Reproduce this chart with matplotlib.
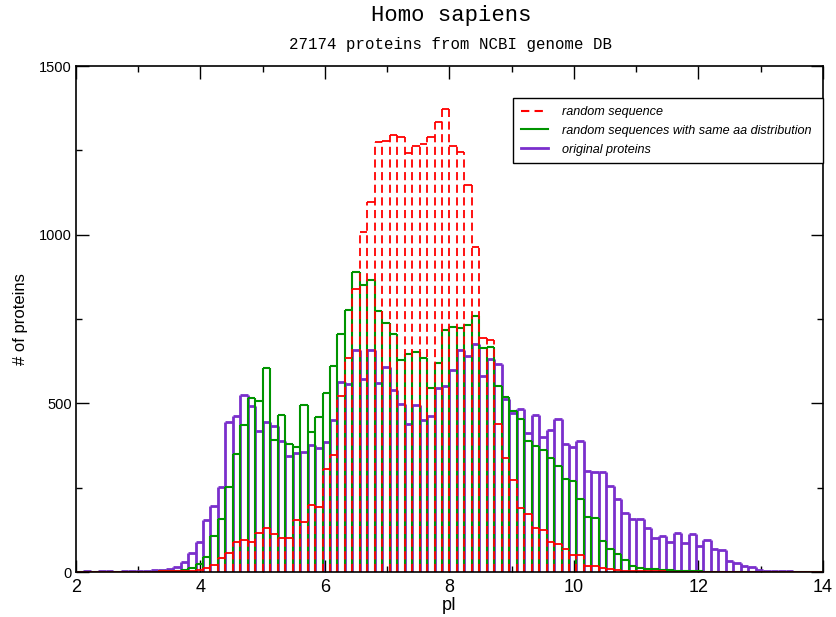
import matplotlib
matplotlib.use("Agg")
import matplotlib.pyplot as plt
from matplotlib.lines import Line2D
from matplotlib.ticker import MultipleLocator
import numpy as np

# histogram bins: 100 bins of width 0.12 from pI 2 to 14
bin_start = 2.0
bin_width = 0.12
n_bins = 100

original_proteins = [
    1, 2, 1, 2, 2, 1, 3, 2, 3, 4,
    5, 7, 9, 16, 30, 57, 88, 154, 197, 253,
    446, 462, 525, 493, 418, 446, 433, 389, 345, 354,
    357, 376, 367, 386, 451, 564, 557, 658, 571, 658,
    561, 607, 540, 497, 440, 495, 452, 462, 545, 550,
    599, 658, 641, 677, 581, 631, 618, 512, 470, 483,
    413, 464, 400, 420, 454, 379, 372, 388, 299, 297,
    296, 256, 216, 174, 156, 158, 130, 100, 107, 90,
    117, 87, 113, 78, 94, 67, 66, 34, 26, 18,
    16, 6, 4, 3, 2, 2, 1, 1, 1, 1,
]

same_aa_distribution = [
    0, 0, 0, 0, 0, 0, 0, 0, 0, 1,
    1, 2, 2, 3, 6, 13, 23, 45, 108, 157,
    252, 349, 437, 515, 508, 604, 392, 465, 380, 372,
    495, 414, 460, 530, 611, 707, 777, 888, 850, 867,
    773, 739, 705, 629, 647, 651, 635, 545, 619, 716,
    725, 723, 733, 760, 663, 668, 550, 518, 478, 453,
    389, 374, 361, 339, 314, 276, 270, 216, 162, 159,
    93, 67, 53, 36, 19, 13, 9, 9, 7, 5,
    4, 3, 2, 2, 1, 1, 0, 0, 0, 0,
    0, 0, 0, 0, 0, 0, 0, 0, 0, 0,
]

random_sequence = [
    0, 0, 1, 0, 1, 0, 1, 1, 1, 1,
    1, 2, 2, 2, 3, 3, 5, 11, 21, 42,
    57, 90, 95, 90, 117, 130, 113, 102, 102, 154,
    149, 199, 194, 305, 347, 523, 634, 840, 1009, 1098,
    1274, 1278, 1296, 1289, 1241, 1264, 1268, 1290, 1335, 1373,
    1264, 1244, 1147, 964, 695, 688, 439, 337, 273, 191,
    171, 131, 125, 89, 82, 69, 50, 50, 19, 18,
    11, 8, 5, 4, 3, 3, 2, 2, 2, 1,
    1, 1, 1, 1, 1, 1, 1, 1, 1, 1,
    1, 1, 1, 1, 1, 1, 1, 1, 1, 1,
]

labels = ["random sequence",
          "random sequences with same aa distribution",
          "original proteins"]
title = "Homo sapiens"
subtitle = "27174 proteins from NCBI genome DB"

left_edges = bin_start + bin_width * np.arange(n_bins)
all_edges = bin_start + bin_width * np.arange(n_bins + 1)

RED = "#ff0000"
GREEN = "#009400"
PURPLE = "#7a2fcc"

fig = plt.figure(figsize=(8.37, 6.17), dpi=100)
ax = fig.add_axes([76 / 837, 1 - 572 / 617, 747 / 837, 506 / 617])


def outline_bars(values, color, lw, ls, z):
    h = np.asarray(values, dtype=float)
    padded = np.concatenate([[0.0], h, [0.0]])
    edge_h = np.maximum(padded[:-1], padded[1:])
    ax.vlines(all_edges, 0, edge_h, colors=color, linewidth=lw,
              linestyles=ls, zorder=z)
    ax.hlines(h, left_edges, left_edges + bin_width, colors=color,
              linewidth=lw, linestyles=ls, zorder=z)


outline_bars(original_proteins, PURPLE, 2.0, "solid", 2)
outline_bars(same_aa_distribution, GREEN, 1.5, "solid", 3)
outline_bars(random_sequence, RED, 1.3, (0, (4.5, 2.5)), 4)

ax.set_xlim(2, 14)
ax.set_ylim(0, 1500)
ax.xaxis.set_major_locator(MultipleLocator(2))
ax.xaxis.set_minor_locator(MultipleLocator(1))
ax.yaxis.set_major_locator(MultipleLocator(500))
ax.yaxis.set_minor_locator(MultipleLocator(250))
ax.tick_params(which="both", direction="in", top=True, right=True, width=1)
ax.tick_params(which="major", length=9)
ax.tick_params(which="minor", length=4.2)
ax.tick_params(axis="x", which="major", labelsize=13, pad=5)
ax.tick_params(axis="y", which="major", labelsize=10.5, pad=3)
for s in ax.spines.values():
    s.set_linewidth(1.2)
    s.set_zorder(5)

for lbl in ax.get_xticklabels() + ax.get_yticklabels():
    lbl.set_family("Liberation Sans")

ax.set_xlabel("pI", fontsize=13, family="Liberation Sans", labelpad=1)
ax.set_ylabel("# of proteins", fontsize=12, family="Liberation Sans", labelpad=8)

fig.text(451 / 837, 1 - 16 / 617, title, ha="center", va="center",
         fontsize=16, family="Liberation Mono")
fig.text(451 / 837, 1 - 45 / 617, subtitle, ha="center", va="center",
         fontsize=11.3, family="Liberation Mono")

handles = [
    Line2D([], [], color=RED, lw=1.5, linestyle=(0, (4, 2.5))),
    Line2D([], [], color=GREEN, lw=1.5),
    Line2D([], [], color=PURPLE, lw=2.0),
]
leg = ax.legend(handles, labels, loc="upper left",
                bbox_to_anchor=(0.585, 0.936, 0.415, 0.0), mode="expand",
                prop={"family": "Liberation Sans", "style": "italic", "size": 9.1},
                frameon=True, fancybox=False, framealpha=1, edgecolor="black",
                borderaxespad=0, handlelength=2.2, handletextpad=1.1,
                labelspacing=0.55, borderpad=0.6)
leg.get_frame().set_linewidth(1.0)
leg.set_zorder(6)

fig.savefig("out.png", dpi=100)
